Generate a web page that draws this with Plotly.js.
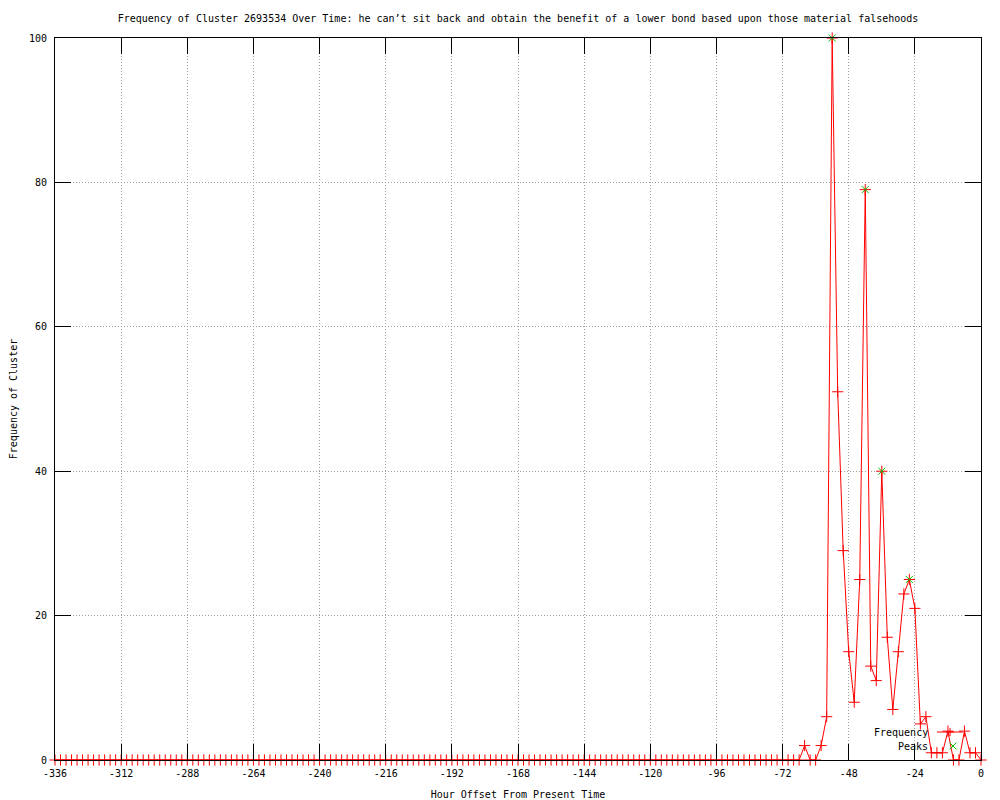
<!DOCTYPE html>
<html>
<head>
<meta charset="utf-8">
<script src="https://cdn.plot.ly/plotly-3.0.1.min.js"></script>
<style>html,body{margin:0;padding:0;background:#fff;}#chart{width:1000px;height:800px;}</style>
</head>
<body>
<div id="chart"></div>
<script>
// Hour offsets (every 2 hours)
const hours = [
-336,-334,-332,-330,-328,-326,-324,-322,-320,-318,-316,-314,-312,-310,-308,-306,-304,-302,-300,-298,
-296,-294,-292,-290,-288,-286,-284,-282,-280,-278,-276,-274,-272,-270,-268,-266,-264,-262,-260,-258,
-256,-254,-252,-250,-248,-246,-244,-242,-240,-238,-236,-234,-232,-230,-228,-226,-224,-222,-220,-218,
-216,-214,-212,-210,-208,-206,-204,-202,-200,-198,-196,-194,-192,-190,-188,-186,-184,-182,-180,-178,
-176,-174,-172,-170,-168,-166,-164,-162,-160,-158,-156,-154,-152,-150,-148,-146,-144,-142,-140,-138,
-136,-134,-132,-130,-128,-126,-124,-122,-120,-118,-116,-114,-112,-110,-108,-106,-104,-102,-100,-98,
-96,-94,-92,-90,-88,-86,-84,-82,-80,-78,-76,-74,-72,-70,-68,-66,-64,-62,-60,-58,
-56,-54,-52,-50,-48,-46,-44,-42,-40,-38,-36,-34,-32,-30,-28,-26,-24,-22,-20,-18,
-16,-14,-12,-10,-8,-6,-4,-2,0
];
const frequency = [
0,0,0,0,0,0,0,0,0,0,0,0,0,0,0,0,0,0,0,0,
0,0,0,0,0,0,0,0,0,0,0,0,0,0,0,0,0,0,0,0,
0,0,0,0,0,0,0,0,0,0,0,0,0,0,0,0,0,0,0,0,
0,0,0,0,0,0,0,0,0,0,0,0,0,0,0,0,0,0,0,0,
0,0,0,0,0,0,0,0,0,0,0,0,0,0,0,0,0,0,0,0,
0,0,0,0,0,0,0,0,0,0,0,0,0,0,0,0,0,0,0,0,
0,0,0,0,0,0,0,0,0,0,0,0,0,0,0,0,2,0,0,2,
6,100,51,29,15,8,25,79,13,11,40,17,7,15,23,25,21,5,6,1,
1,1,4,0,0,4,1,1,0
];
const peakHours = [-54, -42, -36, -26];
const peakValues = [100, 79, 40, 25];

const xTicks = [-336,-312,-288,-264,-240,-216,-192,-168,-144,-120,-96,-72,-48,-24,0];
const xTickText = ["-336","-312","-288","-264","-240","-216","-192","-168","-144","-120","-96","-72","-48","-24","0"];
const yTicks = [0,20,40,60,80,100];
const yTickText = ["0","20","40","60","80","100"];

const titleText = "Frequency of Cluster 2693534 Over Time: he can\u2019t sit back and obtain the benefit of a lower bond based upon those material falsehoods";

const RED = "#ff0000";
const GREEN = "#00c000";
const FONT = {family: "DejaVu Sans Mono, monospace", size: 10, color: "#000"};

const traces = [
  {
    x: hours, y: frequency, type: "scatter", mode: "lines+markers", name: "Frequency",
    line: {color: RED, width: 1},
    marker: {symbol: "cross-thin", size: 8, line: {color: RED, width: 1}, color: RED},
    showlegend: false, cliponaxis: false
  },
  {
    x: peakHours, y: peakValues, type: "scatter", mode: "markers", name: "Peaks",
    marker: {symbol: "x-thin", size: 7, line: {color: GREEN, width: 1}, color: GREEN},
    showlegend: false, cliponaxis: false
  }
];

// manual gnuplot-style legend (text then sample)
const L = 55, R = 981, T = 38, B = 760;
const px = v => (v - L) / (R - L);
const py = v => (B - v) / (B - T);
const hx = 4 / (R - L), hy = 4 / (B - T);

const shapes = [
  {type: "line", xref: "paper", yref: "paper", x0: px(937), x1: px(963), y0: py(732), y1: py(732), line: {color: RED, width: 1}},
  {type: "path", xref: "paper", yref: "paper",
   path: `M${px(950)-hx},${py(732)} L${px(950)+hx},${py(732)} M${px(950)},${py(732)-hy} L${px(950)},${py(732)+hy}`,
   line: {color: RED, width: 1}},
  {type: "path", xref: "paper", yref: "paper",
   path: `M${px(953)-hx*0.85},${py(746)-hy*0.85} L${px(953)+hx*0.85},${py(746)+hy*0.85} M${px(953)-hx*0.85},${py(746)+hy*0.85} L${px(953)+hx*0.85},${py(746)-hy*0.85}`,
   line: {color: GREEN, width: 1}}
];
const annotations = [
  {text: "Frequency", xref: "paper", yref: "paper", x: px(930), y: py(732), xanchor: "right", yanchor: "middle", showarrow: false, font: FONT},
  {text: "Peaks", xref: "paper", yref: "paper", x: px(930), y: py(746), xanchor: "right", yanchor: "middle", showarrow: false, font: FONT}
];

const axisCommon = {
  showline: true, linecolor: "#000", linewidth: 1, mirror: "ticks",
  ticks: "inside", ticklen: 16, tickwidth: 1, tickcolor: "#000",
  showgrid: true, gridcolor: "#a0a0a0", griddash: "1px,2px", gridwidth: 1,
  zeroline: false, tickfont: FONT, tickmode: "array"
};

const layout = {
  width: 1000, height: 800,
  margin: {l: 55, r: 19, t: 38, b: 40},
  paper_bgcolor: "#fff", plot_bgcolor: "#fff",
  font: FONT,
  title: {text: titleText, font: FONT, x: 0.518, xanchor: "center", y: 1 - 18/800, yanchor: "middle"},
  xaxis: Object.assign({}, axisCommon, {
    range: [-336, 0], tickvals: xTicks, ticktext: xTickText, ticklabelstandoff: 4,
    title: {text: "Hour Offset From Present Time", font: FONT, standoff: 12}
  }),
  yaxis: Object.assign({}, axisCommon, {
    range: [0, 100], tickvals: yTicks, ticktext: yTickText, ticklabelstandoff: 5,
    title: {text: "Frequency of Cluster", font: FONT, standoff: 9}
  }),
  shapes: shapes, annotations: annotations,
  showlegend: false
};

Plotly.newPlot("chart", traces, layout, {staticPlot: true, displayModeBar: false});
</script>
</body>
</html>
